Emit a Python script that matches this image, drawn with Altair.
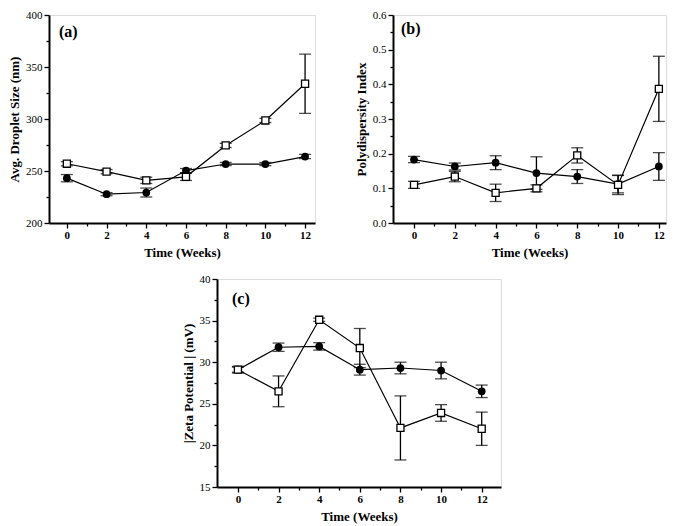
import altair as alt
import pandas as pd

weeks = [0, 2, 4, 6, 8, 10, 12]

# (a) Avg. droplet size (nm)
size_circle = [243.1, 227.7, 229.3, 250.4, 256.7, 256.7, 263.9]
size_circle_err = [3.5, 1.5, 4.3, 2.0, 1.5, 1.5, 2.0]
size_square = [257.0, 249.4, 241.0, 244.4, 274.6, 298.6, 333.9]
size_square_err = [2.0, 2.0, 3.0, 3.5, 2.0, 2.0, 28.4]

# (b) Polydispersity index
pdi_circle = [0.183, 0.163, 0.174, 0.144, 0.134, 0.112, 0.163]
pdi_circle_err = [0.009, 0.010, 0.020, 0.047, 0.020, 0.025, 0.040]
pdi_square = [0.110, 0.134, 0.087, 0.100, 0.195, 0.110, 0.387]
pdi_square_err = [0.010, 0.015, 0.025, 0.010, 0.022, 0.028, 0.094]

# (c) |Zeta potential| (mV)
zeta_circle = [29.1, 31.8, 31.9, 29.1, 29.3, 29.0, 26.5]
zeta_circle_err = [0.4, 0.5, 0.45, 0.65, 0.7, 1.0, 0.75]
zeta_square = [29.1, 26.5, 35.1, 31.7, 22.1, 23.9, 22.0]
zeta_square_err = [0.3, 1.85, 0.2, 2.35, 3.85, 1.0, 2.0]

x_ticks = [0, 1, 2, 3, 4, 5, 6, 7, 8, 9, 10, 11, 12]
size_ticks = [200, 225, 250, 275, 300, 325, 350, 375, 400]
pdi_ticks = [0.0, 0.05, 0.1, 0.15, 0.2, 0.25, 0.3, 0.35, 0.4, 0.45, 0.5, 0.55, 0.6]
zeta_ticks = [15, 17.5, 20, 22.5, 25, 27.5, 30, 32.5, 35, 37.5, 40]

FONT = "Liberation Serif"


def build_df(vc, ec, vs, es):
    rows = []
    for series, v, e in (("circle", vc, ec), ("square", vs, es)):
        for wk, val, er in zip(weeks, v, e):
            rows.append(dict(week=wk, value=val, lo=val - er, hi=val + er, series=series))
    return pd.DataFrame(rows)


def panel(df, xdom, ydom, yticks, ymajor_test, yfmt, ytitle, label, lx, ly, w, h):
    xaxis = alt.Axis(
        values=x_ticks,
        labelExpr="datum.value % 2 == 0 ? datum.label : ''",
        tickSize={"condition": {"test": "datum.value % 2 != 0", "value": 3}, "value": 5},
        labelFont=FONT, labelFontSize=11, labelFontWeight="bold", labelColor="black",
        titleFont=FONT, titleFontSize=13, titleFontWeight="bold", titleColor="black",
        titlePadding=6, labelPadding=1,
        domainColor="black", domainWidth=2, tickColor="black", tickWidth=1.3,
        grid=False, format="d",
    )
    yaxis = alt.Axis(
        values=yticks,
        labelExpr=f"{ymajor_test} ? datum.label : ''",
        tickSize={"condition": {"test": f"!({ymajor_test})", "value": 3}, "value": 5},
        labelFont=FONT, labelFontSize=11, labelColor="black",
        titleFont=FONT, titleFontSize=13, titleFontWeight="bold", titleColor="black",
        titlePadding=4, labelPadding=2,
        domainColor="black", domainWidth=2, tickColor="black", tickWidth=1.3,
        grid=False, format=yfmt,
    )
    X = alt.X("week:Q", scale=alt.Scale(domain=xdom, nice=False, zero=False),
              axis=xaxis, title="Time (Weeks)")

    def Y(field):
        return alt.Y(f"{field}:Q", scale=alt.Scale(domain=ydom, nice=False, zero=False),
                     axis=yaxis, title=ytitle)

    base = alt.Chart(df)
    lines = base.mark_line(color="black", strokeWidth=1.2).encode(x=X, y=Y("value"), detail="series:N")
    rules = base.mark_rule(color="black", strokeWidth=1.3).encode(x=X, y=Y("lo"), y2="hi:Q")
    cap_lo = base.mark_tick(orient="horizontal", size=12, thickness=1.3, color="black").encode(x=X, y=Y("lo"))
    cap_hi = base.mark_tick(orient="horizontal", size=12, thickness=1.3, color="black").encode(x=X, y=Y("hi"))
    circles = base.transform_filter("datum.series == 'circle'").mark_point(
        shape="circle", filled=True, color="black", size=60, opacity=1).encode(x=X, y=Y("value"))
    squares = base.transform_filter("datum.series == 'square'").mark_point(
        shape="square", filled=False, fill="white", stroke="black", strokeWidth=1.3,
        size=50, opacity=1, fillOpacity=1).encode(x=X, y=Y("value"))
    tag = alt.Chart(pd.DataFrame({"t": [label]})).mark_text(
        font=FONT, fontSize=16, fontWeight="bold", align="left", baseline="middle", color="black"
    ).encode(text="t:N", x=alt.value(lx), y=alt.value(ly))
    return alt.layer(lines, rules, cap_lo, cap_hi, circles, squares, tag).properties(width=w, height=h)


pa = panel(build_df(size_circle, size_circle_err, size_square, size_square_err),
           [-0.9, 12.5], [200, 400], size_ticks, "datum.value % 50 == 0", "d",
           "Avg.  Droplet  Size (nm)", "(a)", 10, 17, 266, 208)
pb = panel(build_df(pdi_circle, pdi_circle_err, pdi_square, pdi_square_err),
           [-1.03, 12.35], [0, 0.6], pdi_ticks, "round(datum.value * 100) % 10 == 0", ".1f",
           "Polydispersity Index", "(b)", 8, 14, 273, 208)
pc = panel(build_df(zeta_circle, zeta_circle_err, zeta_square, zeta_square_err),
           [-1.03, 12.95], [15, 40], zeta_ticks, "round(datum.value * 10) % 50 == 0", "d",
           "|Zeta Potential | (mV)", "(c)", 15, 20, 284, 208)

spacer = alt.Chart(pd.DataFrame({"a": [0]})).mark_point(opacity=0).encode(
    x=alt.value(0), y=alt.value(0)
).properties(width=132, height=10, view=alt.ViewBackground(stroke=None))

top = alt.hconcat(pa, pb, spacing=38)
bottom = alt.hconcat(spacer, pc, spacing=0)

chart = alt.vconcat(top, bottom, spacing=12).properties(
    padding=0
).configure_view(stroke="black", strokeWidth=1.5).configure(background="white")

chart.save("out.html", embed_options={"renderer": "svg", "actions": False})
